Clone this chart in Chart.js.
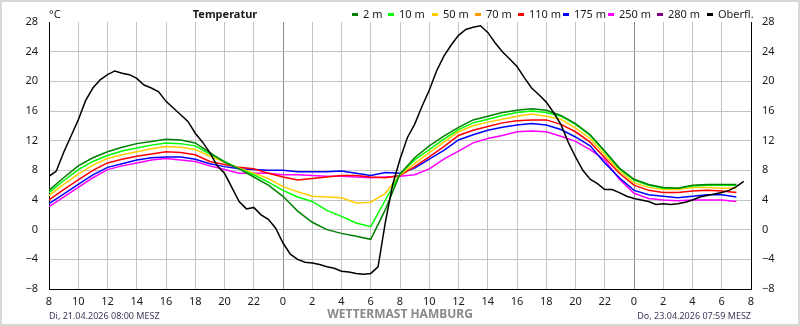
<!DOCTYPE html>
<html lang="de">
<head>
    <meta charset="UTF-8">
    <title>Wettermast Hamburg - Temperatur</title>
    <style>
        body {
            margin: 0;
            background-color: #FFFFFF;
        }
        #chartBox {
            width: 800px;
            height: 326px;
        }
    </style>
    <script src="https://cdn.jsdelivr.net/npm/chart.js"></script>
</head>
<body>
    <div id="chartBox">
        <canvas id="tempChart" width="800" height="326"></canvas>
    </div>

    <script>
        // Stunden seit Di 08:00 (Messhöhen stündlich, Oberfläche halbstündlich)
        var hourlyTimes = [0, 1, 2, 3, 4, 5, 6, 7, 8, 9, 10, 11, 12, 13, 14, 15, 16, 17, 18, 19, 20, 21, 22, 23,
            24, 25, 26, 27, 28, 29, 30, 31, 32, 33, 34, 35, 36, 37, 38, 39, 40, 41, 42, 43, 44, 45, 46, 47];
        var halfHourTimes = [];
        for (var i = 0; i <= 95; i++) halfHourTimes.push(i / 2);

        var t2m = [5.3, 7.0, 8.6, 9.7, 10.5, 11.1, 11.6, 11.9, 12.2, 12.1, 11.7, 10.4, 9.1, 8.2, 7.1, 6.0,
            4.5, 2.5, 1.0, 0.0, -0.5, -0.9, -1.3, 2.7, 7.5, 9.7, 11.3, 12.6, 13.8, 14.8, 15.3, 15.8,
            16.1, 16.3, 16.1, 15.4, 14.3, 12.8, 10.6, 8.3, 6.8, 6.1, 5.7, 5.6, 6.0, 6.1, 6.1, 6.1];
        var t10m = [5.0, 6.6, 8.1, 9.2, 10.0, 10.6, 11.0, 11.4, 11.7, 11.6, 11.3, 10.2, 9.2, 8.2, 7.4, 6.4,
            5.3, 4.4, 3.8, 2.6, 1.8, 0.9, 0.4, 4.0, 7.5, 9.4, 10.8, 12.2, 13.5, 14.4, 14.9, 15.4,
            15.8, 16.0, 15.8, 15.3, 14.2, 12.7, 10.5, 8.2, 6.7, 6.0, 5.6, 5.6, 5.9, 6.0, 6.0, 6.0];
        var t50m = [4.6, 6.1, 7.5, 8.7, 9.6, 10.1, 10.5, 10.9, 11.2, 11.1, 10.8, 9.9, 9.1, 8.3, 7.6, 6.9,
            5.8, 5.1, 4.5, 4.4, 4.3, 3.6, 3.7, 4.9, 7.4, 8.9, 10.4, 11.8, 13.2, 14.0, 14.5, 14.9,
            15.3, 15.6, 15.3, 14.9, 13.7, 12.3, 10.1, 7.9, 6.3, 5.7, 5.4, 5.4, 5.7, 5.7, 5.6, 5.6];
        var t70m = [];
        var t110m = [4.0, 5.4, 6.7, 8.0, 9.0, 9.5, 9.9, 10.2, 10.5, 10.4, 10.1, 9.2, 8.8, 8.4, 8.2, 7.6,
            7.1, 6.7, 6.9, 7.1, 7.3, 7.3, 7.1, 7.0, 7.3, 8.5, 9.8, 11.2, 12.7, 13.4, 13.9, 14.4,
            14.7, 14.8, 14.8, 14.2, 13.2, 11.8, 9.7, 7.6, 6.0, 5.3, 5.0, 5.0, 5.2, 5.3, 5.2, 5.0];
        var t175m = [3.5, 4.8, 6.1, 7.4, 8.4, 8.9, 9.4, 9.7, 9.8, 9.8, 9.5, 8.9, 8.5, 8.2, 8.1, 8.0,
            8.0, 7.8, 7.8, 7.8, 7.9, 7.6, 7.3, 7.7, 7.6, 8.3, 9.5, 10.7, 12.1, 12.8, 13.4, 13.8,
            14.1, 14.3, 14.1, 13.5, 12.5, 11.3, 9.0, 7.0, 5.3, 4.7, 4.5, 4.3, 4.5, 4.7, 4.7, 4.4];
        var t250m = [3.1, 4.4, 5.7, 7.0, 8.1, 8.6, 9.0, 9.4, 9.6, 9.4, 9.2, 8.6, 8.1, 7.6, 7.6, 7.6,
            7.4, 7.4, 7.3, 7.2, 7.2, 7.1, 7.0, 7.1, 7.2, 7.4, 8.2, 9.5, 10.6, 11.7, 12.3, 12.7,
            13.2, 13.3, 13.2, 12.6, 11.9, 10.8, 9.4, 6.8, 4.9, 4.2, 4.0, 3.9, 4.0, 4.0, 4.0, 3.8];
        var t280m = [];
        var tSurface = [7.2, 7.9, 10.4, 12.6, 14.8, 17.4, 19.1, 20.2, 20.9, 21.4, 21.1, 20.9, 20.4, 19.5, 19.1, 18.6,
            17.3, 16.4, 15.5, 14.6, 13.0, 11.8, 10.4, 8.6, 7.6, 5.7, 3.8, 2.8, 3.0, 2.0, 1.4, 0.2,
            -1.8, -3.3, -4.0, -4.4, -4.5, -4.7, -5.0, -5.2, -5.6, -5.7, -5.9, -6.0, -5.9, -5.0, 1.0, 6.1,
            9.5, 12.4, 14.2, 16.6, 18.8, 21.4, 23.4, 24.9, 26.2, 27.0, 27.3, 27.5, 26.6, 25.2, 24.0, 23.0,
            22.0, 20.5, 19.1, 18.2, 17.2, 15.8, 14.2, 11.8, 9.8, 8.0, 6.8, 6.2, 5.4, 5.4, 5.0, 4.5,
            4.2, 4.0, 3.8, 3.4, 3.5, 3.4, 3.5, 3.7, 4.0, 4.4, 4.6, 4.8, 5.0, 5.3, 5.8, 6.5];

        var seriesLabels = ['2 m', '10 m', '50 m', '70 m', '110 m', '175 m', '250 m', '280 m', 'Oberfl.'];
        var seriesColors = ['#008000', '#00FF00', '#FFCC00', '#FF9900', '#FF0000', '#0000FF', '#FF00FF', '#800080', '#000000'];

        var uiFont = '"Noto Sans", "DejaVu Sans", sans-serif';

        function toPoints(times, values) {
            return values.map(function(v, i) { return { x: times[i], y: v }; });
        }

        var seriesData = [
            toPoints(hourlyTimes, t2m),
            toPoints(hourlyTimes, t10m),
            toPoints(hourlyTimes, t50m),
            toPoints(hourlyTimes, t70m),
            toPoints(hourlyTimes, t110m),
            toPoints(hourlyTimes, t175m),
            toPoints(hourlyTimes, t250m),
            toPoints(hourlyTimes, t280m),
            toPoints(halfHourTimes, tSurface)
        ];

        var datasets = seriesLabels.map(function(label, i) {
            return {
                label: label,
                data: seriesData[i],
                borderColor: seriesColors[i],
                backgroundColor: seriesColors[i],
                borderWidth: 1.5,
                pointRadius: 0,
                fill: false,
                tension: 0,
                order: label === 'Oberfl.' ? -1 : i
            };
        });

        function minusLabel(v) {
            return v < 0 ? '\u2212' + (-v) : String(v);
        }

        // Startpositionen der Legendenmarker (px)
        var legendLeft = [352, 388, 432, 475, 518, 563, 608, 657, 707];

        // Rahmen, Titel, Legende und Fußzeile
        var decorPlugin = {
            id: 'decor',
            beforeDraw: function(chart) {
                var ctx = chart.ctx;
                ctx.save();
                ctx.fillStyle = '#FFFFFF';
                ctx.fillRect(0, 0, chart.width, chart.height);
                ctx.restore();
            },
            afterDraw: function(chart) {
                var ctx = chart.ctx;
                var area = chart.chartArea;
                ctx.save();

                ctx.strokeStyle = '#D8D8D8';
                ctx.lineWidth = 2;
                ctx.strokeRect(1, 1, chart.width - 2, chart.height - 2);

                ctx.fillStyle = '#1A1A1A';
                ctx.textBaseline = 'middle';
                ctx.font = '11px ' + uiFont;
                ctx.textAlign = 'left';
                ctx.fillText('\u00B0C', area.left, 15);

                ctx.font = 'bold 11px ' + uiFont;
                ctx.textAlign = 'center';
                ctx.fillText('Temperatur', 225, 15);

                ctx.font = '11px ' + uiFont;
                ctx.textAlign = 'left';
                seriesLabels.forEach(function(l, i) {
                    var x = legendLeft[i];
                    ctx.fillStyle = seriesColors[i];
                    ctx.fillRect(x, 13, 6, 3);
                    ctx.fillStyle = '#1A1A1A';
                    ctx.fillText(l, x + 11, 15);
                });

                ctx.font = '9px ' + uiFont;
                ctx.fillStyle = '#3A3A5A';
                ctx.textAlign = 'left';
                ctx.fillText('Di, 21.04.2026 08:00 MESZ', area.left, 316);
                ctx.textAlign = 'right';
                ctx.fillText('Do, 23.04.2026 07:59 MESZ', area.right, 316);

                ctx.font = 'bold 12px ' + uiFont;
                ctx.fillStyle = '#8A8A8A';
                ctx.textAlign = 'center';
                ctx.fillText('WETTERMAST HAMBURG', 400, 315);

                ctx.restore();
            }
        };

        var tickFont = { family: uiFont, size: 11 };

        var ctx = document.getElementById('tempChart').getContext('2d');
        var tempChart = new Chart(ctx, {
            type: 'line',
            data: { datasets: datasets },
            options: {
                responsive: false,
                animation: false,
                devicePixelRatio: 1,
                layout: { padding: { top: 22, left: 0, right: 0, bottom: 0 } },
                plugins: {
                    legend: { display: false },
                    tooltip: { enabled: false },
                    title: { display: false }
                },
                scales: {
                    x: {
                        type: 'linear',
                        min: 0,
                        max: 48,
                        ticks: {
                            stepSize: 2,
                            autoSkip: false,
                            maxRotation: 0,
                            padding: 6,
                            color: '#1A1A1A',
                            font: tickFont,
                            callback: function(v) { return String((v + 8) % 24); }
                        },
                        grid: {
                            drawTicks: false,
                            color: function(c) {
                                var v = c.tick ? c.tick.value : 0;
                                return (v === 16 || v === 40) ? '#8C8C8C' : '#C4C4C4';
                            }
                        },
                        border: { color: '#000000', width: 1 },
                        afterFit: function(s) { s.height = 37; }
                    },
                    y: {
                        min: -8,
                        max: 28,
                        ticks: {
                            stepSize: 4,
                            padding: 11,
                            color: '#1A1A1A',
                            font: tickFont,
                            callback: minusLabel
                        },
                        grid: {
                            drawTicks: false,
                            color: function(c) {
                                return (c.tick && c.tick.value === 28) ? 'rgba(0,0,0,0)' : '#C4C4C4';
                            }
                        },
                        border: { color: '#000000', width: 1 },
                        afterFit: function(s) { s.width = 49; }
                    },
                    y2: {
                        position: 'right',
                        min: -8,
                        max: 28,
                        ticks: {
                            stepSize: 4,
                            padding: 11,
                            color: '#1A1A1A',
                            font: tickFont,
                            callback: minusLabel
                        },
                        grid: { display: false, drawTicks: false },
                        border: { color: '#000000', width: 1 },
                        afterFit: function(s) { s.width = 49; }
                    }
                }
            },
            plugins: [decorPlugin]
        });
    </script>
</body>
</html>
